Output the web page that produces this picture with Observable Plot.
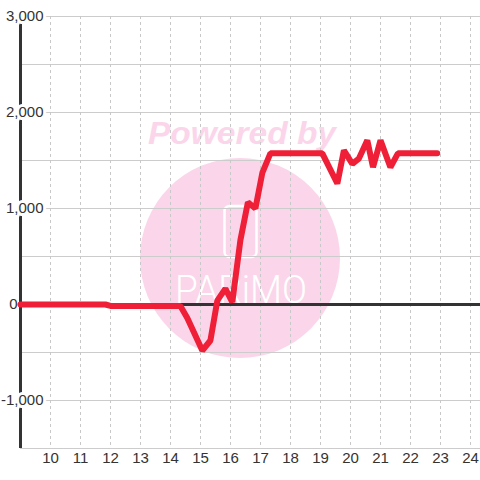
<!DOCTYPE html>
<html>
<head>
<meta charset="utf-8">
<script src="https://cdn.jsdelivr.net/npm/d3@7"></script>
<script src="https://cdn.jsdelivr.net/npm/@observablehq/plot@0.6"></script>
<style>
  html, body { margin: 0; padding: 0; background: #fff; }
  #chart { width: 480px; height: 480px; overflow: hidden; }
</style>
</head>
<body>
<div id="chart"></div>
<script>
// Data: hour of day vs value
const hours  = [9, 11.83, 12.0, 14.33, 14.56, 15.06, 15.33, 15.56, 15.83, 16.06, 16.33, 16.58, 16.83, 17.06, 17.33, 19.06, 19.56, 19.78, 20.06, 20.28, 20.56, 20.75, 21.0, 21.33, 21.58, 22.89];
const values = [0, 0, -15, -15, -140, -480, -375, 40, 165, 25, 670, 1065, 1000, 1370, 1575, 1575, 1260, 1605, 1465, 1520, 1710, 1430, 1710, 1430, 1575, 1575];

const xTicks = [10, 11, 12, 13, 14, 15, 16, 17, 18, 19, 20, 21, 22, 23, 24];
const yGrid = [-1500, -1000, -500, 0, 500, 1000, 1500, 2000, 2500, 3000];
const yLabelsWide = [3000, 2000, 1000, -1000];
const yLabelsZero = [0];

const data = hours.map((h, i) => ({h, v: values[i]}));
const fmt = d => d3.format(",")(d).replace("\u2212", "-");
const font = "'Liberation Sans', Arial, sans-serif";

const plot = Plot.plot({
  width: 480,
  height: 480,
  marginTop: 16,
  marginBottom: 32,
  marginLeft: 20,
  marginRight: 0,
  style: {fontFamily: font, fontSize: "15px", background: "#fff"},
  x: {domain: [9, 24.333], axis: null},
  y: {domain: [-1500, 3000], axis: null},
  marks: [
    Plot.ruleY(yGrid, {stroke: "#cccccc", strokeWidth: 1}),
    Plot.ruleX(xTicks, {stroke: "#c8c8c8", strokeWidth: 1, strokeDasharray: "3,3"}),
    Plot.ruleX([9], {stroke: "#333", strokeWidth: 3}),
    Plot.ruleY([0], {stroke: "#333", strokeWidth: 3}),
    Plot.line(data, {x: "h", y: "v", stroke: "#ee1f36", strokeWidth: 6, strokeLinejoin: "miter", curve: "linear"}),
    Plot.text(yLabelsWide, {x: 9, y: d => d, text: fmt, textAnchor: "end", dx: 23, fill: "#333", stroke: "white", strokeWidth: 6, paintOrder: "stroke", fontSize: 15}),
    Plot.text(yLabelsZero, {x: 9, y: d => d, text: fmt, textAnchor: "end", dx: -3, fill: "#333", fontSize: 15}),
    Plot.text(xTicks, {x: d => d, frameAnchor: "bottom", dy: 14, text: d => String(d), fill: "#333", fontSize: 15})
  ]
});

// Watermark behind everything
const ns = "http://www.w3.org/2000/svg";
const wm = document.createElementNS(ns, "g");
wm.innerHTML = `
  <circle cx="240" cy="258" r="100" fill="#fbd6ea"></circle>
  <text x="242" y="144" text-anchor="middle" font-family="${font}" font-weight="bold" font-style="italic" font-size="31" fill="#fbd6ea" textLength="188" lengthAdjust="spacingAndGlyphs">Powered by</text>
  <rect x="224.5" y="206" width="32" height="51" rx="5" fill="none" stroke="#fff" stroke-width="2.5"></rect>
  <text x="241" y="303" text-anchor="middle" font-family="Roboto, sans-serif" font-weight="300" font-size="38" fill="#fff" textLength="132" lengthAdjust="spacingAndGlyphs">PARiMO</text>
`;
const firstMark = plot.querySelector("g");
plot.insertBefore(wm, firstMark);

document.getElementById("chart").appendChild(plot);
</script>
</body>
</html>
